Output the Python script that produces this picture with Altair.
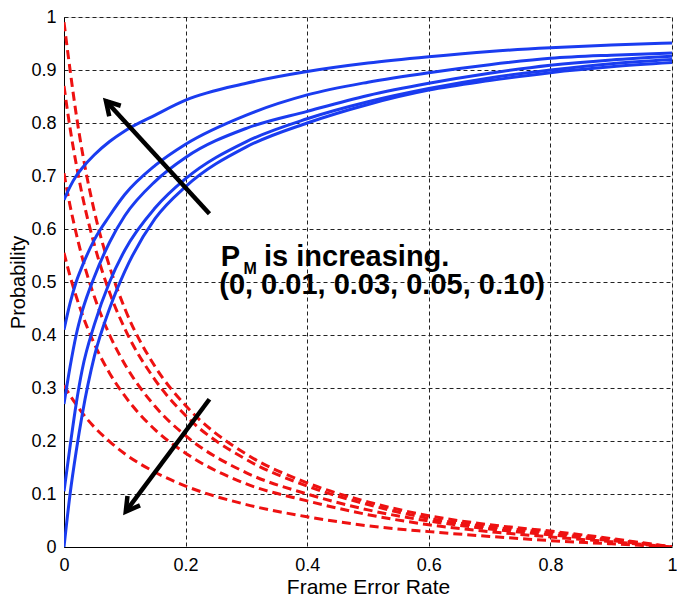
import altair as alt
import pandas as pd

# ---- data ----
fer = [0, 0.01, 0.02, 0.03, 0.05, 0.075, 0.1, 0.15, 0.2, 0.3, 0.4, 0.5, 0.6, 0.7, 0.8, 0.9, 1.0]

pm_levels = ["0", "0.01", "0.03", "0.05", "0.10"]

blue_0 = [0.0, 0.10, 0.18, 0.25, 0.36, 0.45, 0.52, 0.62, 0.68, 0.755, 0.80, 0.835, 0.862, 0.88, 0.895, 0.906, 0.914]
blue_1 = [0.105, 0.19, 0.27, 0.335, 0.42, 0.50, 0.56, 0.64, 0.695, 0.765, 0.808, 0.84, 0.865, 0.885, 0.90, 0.912, 0.92]
blue_3 = [0.27, 0.34, 0.40, 0.445, 0.51, 0.575, 0.625, 0.69, 0.735, 0.79, 0.822, 0.852, 0.875, 0.894, 0.909, 0.919, 0.926]
blue_5 = [0.41, 0.46, 0.50, 0.53, 0.58, 0.625, 0.665, 0.72, 0.76, 0.815, 0.853, 0.877, 0.895, 0.91, 0.922, 0.928, 0.932]
blue_10 = [0.655, 0.68, 0.70, 0.715, 0.74, 0.765, 0.785, 0.815, 0.843, 0.875, 0.897, 0.913, 0.925, 0.935, 0.942, 0.947, 0.951]

red_0 = [0.99, 0.90, 0.817, 0.746, 0.633, 0.529, 0.45, 0.34, 0.267, 0.175, 0.121, 0.085, 0.059, 0.042, 0.03, 0.016, 0.0]
red_1 = [0.87, 0.79, 0.723, 0.664, 0.57, 0.48, 0.412, 0.315, 0.248, 0.165, 0.115, 0.08, 0.054, 0.038, 0.027, 0.014, 0.0]
red_3 = [0.705, 0.644, 0.592, 0.546, 0.472, 0.40, 0.345, 0.265, 0.21, 0.14, 0.10, 0.07, 0.049, 0.034, 0.023, 0.012, 0.0]
red_5 = [0.555, 0.511, 0.473, 0.439, 0.383, 0.328, 0.285, 0.221, 0.177, 0.119, 0.087, 0.061, 0.042, 0.029, 0.019, 0.01, 0.0]
red_10 = [0.305, 0.286, 0.269, 0.253, 0.226, 0.199, 0.176, 0.141, 0.115, 0.08, 0.057, 0.04, 0.029, 0.02, 0.012, 0.006, 0.0]

blue_series = [blue_0, blue_1, blue_3, blue_5, blue_10]
red_series = [red_0, red_1, red_3, red_5, red_10]

# annotation text and arrows (data coordinates)
ann_line1_p = "P"
ann_line1_sub = "M"
ann_line1_rest = "is increasing."
ann_line2 = "(0, 0.01, 0.03, 0.05, 0.10)"

arrow_x_tail = [0.2392, 0.2392]
arrow_y_tail = [0.6288, 0.2788]
arrow_x_tip = [0.0690, 0.1016]
arrow_y_tip = [0.8414, 0.0669]
arrow_angle = [317.7, 216.4]

# ---- build tables ----
def long_table(series_list):
    rows = []
    for name, ys in zip(pm_levels, series_list):
        for xv, yv in zip(fer, ys):
            rows.append({"fer": xv, "p": yv, "pm": name})
    return pd.DataFrame(rows)

blue_df = long_table(blue_series)
red_df = long_table(red_series)

arrows = pd.DataFrame({
    "x": arrow_x_tail, "y": arrow_y_tail,
    "x2": arrow_x_tip, "y2": arrow_y_tip, "angle": arrow_angle,
})

FONT = "Liberation Sans"
W, H = 608, 530

xscale = alt.Scale(domain=[0, 1], nice=False, zero=False)
yscale = alt.Scale(domain=[0, 1], nice=False, zero=False)

x_axis = alt.Axis(
    values=[0, 0.2, 0.4, 0.6, 0.8, 1.0], format="~g",
    grid=True, gridDash=[4, 3], gridColor="#222222", gridOpacity=1, gridWidth=1,
    ticks=False, tickSize=0, domainColor="black", domainWidth=1,
    labelFont=FONT, labelFontSize=18, labelColor="black",
    labelBaseline="alphabetic", labelPadding=23, labelFlush=False, labelOverlap=False,
    title="Frame Error Rate", titleFont=FONT, titleFontSize=21, titleFontWeight="normal",
    titleColor="black", titleBaseline="alphabetic", titleY=46, titleX=W / 2,
)
y_axis = alt.Axis(
    values=[0, 0.1, 0.2, 0.3, 0.4, 0.5, 0.6, 0.7, 0.8, 0.9, 1.0], format="~g",
    grid=True, gridDash=[4, 3], gridColor="#222222", gridOpacity=1, gridWidth=1,
    ticks=False, tickSize=0, domainColor="black", domainWidth=1,
    labelFont=FONT, labelFontSize=18, labelColor="black",
    labelPadding=8, labelFlush=False, labelOverlap=False,
    title="Probability", titleFont=FONT, titleFontSize=20, titleFontWeight="normal",
    titleColor="black", titleBaseline="alphabetic", titleX=-40, titleY=H / 2, titleAngle=270,
)

red_lines = alt.Chart(red_df).mark_line(
    color="#ee1111", strokeWidth=3, strokeDash=[9, 5], interpolate="monotone", clip=True
).encode(
    x=alt.X("fer:Q", scale=xscale, axis=x_axis),
    y=alt.Y("p:Q", scale=yscale, axis=y_axis),
    detail="pm:N",
)

blue_lines = alt.Chart(blue_df).mark_line(
    color="#1a3cf0", strokeWidth=3, interpolate="monotone", clip=True
).encode(
    x=alt.X("fer:Q", scale=xscale),
    y=alt.Y("p:Q", scale=yscale),
    detail="pm:N",
)

shafts = alt.Chart(arrows).mark_rule(color="black", strokeWidth=4.5).encode(
    x=alt.X("x:Q", scale=xscale), y=alt.Y("y:Q", scale=yscale),
    x2="x2:Q", y2="y2:Q",
)

heads = alt.Chart(arrows).mark_point(
    shape="M -0.55 0.95 L 0 0 L 0.55 0.95", filled=False, stroke="black",
    strokeWidth=4.5, size=800, opacity=1, strokeJoin="miter",
).encode(
    x=alt.X("x2:Q", scale=xscale), y=alt.Y("y2:Q", scale=yscale),
    angle=alt.Angle("angle:Q", scale=None),
)

txt = pd.DataFrame({
    "x": [0.2578, 0.2953, 0.329, 0.2553],
    "y": [0.5297, 0.5149, 0.5297, 0.4777],
    "t": [ann_line1_p, ann_line1_sub, ann_line1_rest, ann_line2],
    "fs": [29, 16, 29, 29],
})

texts = alt.Chart(txt).mark_text(
    font=FONT, fontWeight="bold", align="left", baseline="alphabetic", color="black"
).encode(
    x=alt.X("x:Q", scale=xscale), y=alt.Y("y:Q", scale=yscale),
    text="t:N", size=alt.Size("fs:Q", scale=None),
)

chart = alt.layer(red_lines, blue_lines, shafts, heads, texts).properties(
    width=W, height=H,
    padding={"left": 56, "top": 9, "right": 5, "bottom": 52},
    autosize=alt.AutoSizeParams(type="none"),
).configure_view(stroke="black", strokeWidth=1).configure(background="white")

chart.save("out.html", embed_options={"renderer": "svg", "actions": False})
